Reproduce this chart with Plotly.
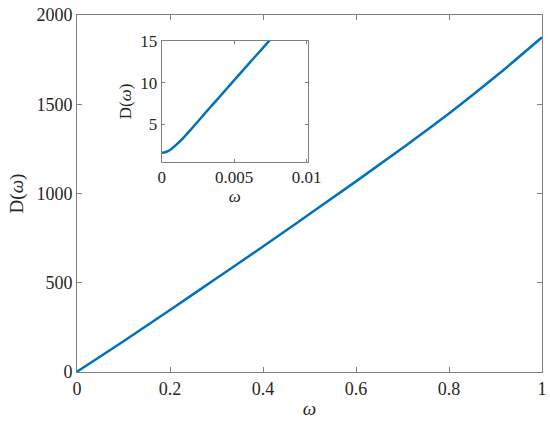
import plotly.graph_objects as go

# Main curve values
omega_main = [0.0, 0.1, 0.2, 0.3, 0.4, 0.5, 0.6, 0.7, 0.8, 0.9, 1.0]
D_main = [1.6, 172, 347, 525, 703, 885, 1068, 1255, 1448, 1655, 1875]

# Inset curve values
omega_inset = [0.0, 0.0003, 0.0006, 0.001, 0.0015, 0.002, 0.0025, 0.003, 0.0035, 0.004,
               0.0045, 0.005, 0.0055, 0.006, 0.0065, 0.007, 0.0075]
D_inset = [1.6, 1.7, 1.98, 2.55, 3.4, 4.35, 5.35, 6.35, 7.33, 8.31,
           9.29, 10.27, 11.25, 12.23, 13.2, 14.17, 15.14]

main_xticks = [0, 0.2, 0.4, 0.6, 0.8, 1]
main_xlabels = ["0", "0.2", "0.4", "0.6", "0.8", "1"]
main_yticks = [0, 500, 1000, 1500, 2000]
inset_xticks = [0, 0.005, 0.01]
inset_xlabels = ["0", "0.005", "0.01"]
inset_yticks = [5, 10, 15]

LINE = "#0072BD"
AX = "#808080"
TXT = "#262626"
FONT = "Liberation Serif, Times New Roman, serif"

fig = go.Figure()
fig.add_trace(go.Scatter(x=omega_main, y=D_main, mode="lines",
                         line=dict(color=LINE, width=2.5, shape="spline"),
                         xaxis="x", yaxis="y", showlegend=False))
fig.add_trace(go.Scatter(x=omega_inset, y=D_inset, mode="lines",
                         line=dict(color=LINE, width=2.5, shape="spline"),
                         xaxis="x2", yaxis="y2", showlegend=False))

common = dict(showgrid=False, zeroline=False, showline=True, linecolor=AX, linewidth=1,
              mirror="ticks", ticks="inside", tickcolor=AX, automargin=False,
              ticklabeloverflow="allow")

fig.update_layout(
    width=550, height=431,
    margin=dict(l=77, r=8, t=15, b=59),
    paper_bgcolor="white", plot_bgcolor="white",
    font=dict(family=FONT, color=TXT),
    xaxis=dict(domain=[0, 1], range=[0, 1], tickvals=main_xticks, ticktext=main_xlabels,
               ticklen=5, tickfont=dict(family=FONT, size=18, color=TXT),
               title=dict(text="<i>ω</i>", font=dict(family=FONT, size=19, color=TXT), standoff=4),
               anchor="y", **common),
    yaxis=dict(domain=[0, 1], range=[0, 2000], tickvals=main_yticks, ticklen=5,
               tickfont=dict(family=FONT, size=18, color=TXT),
               title=dict(text="D(<i>ω</i>)", font=dict(family=FONT, size=19, color=TXT), standoff=7),
               anchor="x", **common),
    xaxis2=dict(domain=[0.182, 0.497], range=[0, 0.0101], tickvals=inset_xticks, ticktext=inset_xlabels,
                ticklen=3, tickfont=dict(family=FONT, size=17, color=TXT),
                title=dict(text="<i>ω</i>", font=dict(family=FONT, size=17, color=TXT), standoff=0),
                anchor="y2", **common),
    yaxis2=dict(domain=[0.588, 0.928], range=[0.5, 15], tickvals=inset_yticks, ticklen=3,
                tickfont=dict(family=FONT, size=17, color=TXT),
                title=dict(text="D(<i>ω</i>)", font=dict(family=FONT, size=17, color=TXT), standoff=4),
                anchor="x2", **common),
)

# remove the page's default body margin so the 550x431 figure fills the window
fig.write_html("out.html", config={"displayModeBar": False},
               post_script="document.body.style.margin='0';")
